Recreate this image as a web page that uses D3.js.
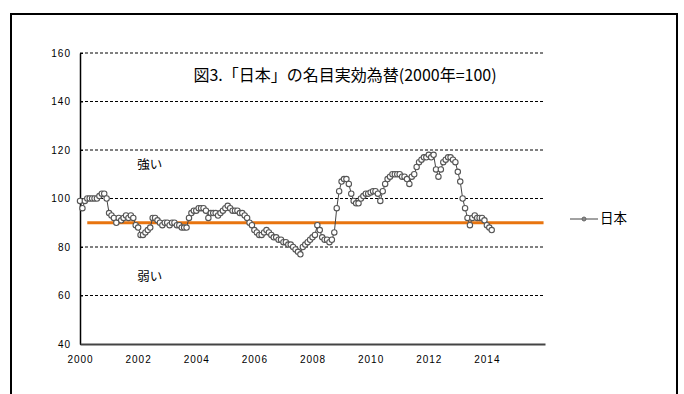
<!DOCTYPE html>
<html>
<head>
<meta charset="utf-8">
<script src="https://cdn.jsdelivr.net/npm/d3@7"></script>
<style>
  html, body { margin: 0; padding: 0; background: #fff; }
  svg { display: block; }
  .tick text { font-family: "Liberation Sans", Arial, sans-serif; font-size: 10px; letter-spacing: 1px; fill: #000; }
  .jp { font-family: "Noto Sans CJK JP", sans-serif; fill: #000; }
</style>
</head>
<body>
<svg id="chart" width="684" height="394"></svg>
<script>
// Nominal effective exchange rate of Japan, monthly, 2000 = 100 (Jan 2000 – Mar 2014)
const startYear = 2000;
const neer = [
  // 2000
  99, 96, 99, 100, 100, 100, 100, 100, 101, 102, 102, 100,
  // 2001
  94, 93, 92, 90, 92, 91, 92, 93, 92, 93, 92, 89,
  // 2002
  88, 85, 85, 86, 87, 88, 92, 92, 91, 90, 89, 90,
  // 2003
  90, 89, 90, 90, 89, 89, 88, 88, 88, 92, 94, 95,
  // 2004
  95, 96, 96, 96, 95, 92, 94, 94, 94, 93, 94, 95,
  // 2005
  96, 97, 96, 95, 95, 95, 94, 94, 93, 92, 90, 89,
  // 2006
  87, 86, 85, 85, 86, 87, 86, 85, 84, 84, 83, 83,
  // 2007
  82, 82, 81, 81, 80, 79, 78, 77, 80, 81, 82, 83,
  // 2008
  84, 85, 89, 87, 84, 83, 83, 82, 83, 86, 96, 103,
  // 2009
  107, 108, 108, 106, 102, 99, 98, 98, 100, 101, 102, 102,
  // 2010
  102.5, 103, 103, 102, 99, 103, 106, 108, 109, 110, 110, 110,
  // 2011
  110, 109, 109, 108, 106, 109, 110, 113, 115, 116, 117, 117,
  // 2012
  118, 117, 118, 112, 109, 112, 115, 116, 117, 117, 116, 115,
  // 2013
  111, 107, 100, 96, 92, 89, 92, 93, 92, 92, 92, 91,
  // 2014
  89, 88, 87
];

const yTicks = [40, 60, 80, 100, 120, 140, 160];
const xTicks = [2000, 2002, 2004, 2006, 2008, 2010, 2012, 2014];
const xDomain = [2000, 2016];
const yDomain = [40, 160];

// Reference level of the rate (horizontal line)
const refLine = [{ year: 2000.25, value: 90 }, { year: 2015.95, value: 90 }];

const title = "図3.「日本」の名目実効為替(2000年=100)";
const strongLabel = { text: "強い", year: 2002.4, value: 113.5 };
const weakLabel = { text: "弱い", year: 2002.4, value: 67.5 };
const seriesName = "日本";

const data = neer.map((v, i) => ({ year: startYear + i / 12, value: v }));

const svg = d3.select("#chart");

// Outer frame
svg.append("rect")
  .attr("x", 11).attr("y", 14)
  .attr("width", 666).attr("height", 400)
  .attr("fill", "none").attr("stroke", "#000").attr("stroke-width", 2);

const plot = { left: 80, right: 545, top: 53, bottom: 344 };

const x = d3.scaleLinear().domain(xDomain).range([plot.left, plot.right]);
const y = d3.scaleLinear().domain(yDomain).range([plot.bottom, plot.top]);

// Dashed horizontal gridlines
svg.append("g")
  .selectAll("line")
  .data(yTicks.filter(t => t !== yDomain[0]))
  .join("line")
  .attr("x1", x(xDomain[0])).attr("x2", x(xDomain[1]))
  .attr("y1", d => y(d)).attr("y2", d => y(d))
  .attr("stroke", "#000").attr("stroke-width", 1)
  .attr("stroke-dasharray", "3,2");

// Y axis
const yAxis = svg.append("g")
  .attr("transform", `translate(${plot.left},0)`)
  .call(d3.axisLeft(y).tickValues(yTicks).tickSizeInner(-3).tickSizeOuter(0).tickPadding(9));
yAxis.select(".domain").attr("stroke", "#000").attr("stroke-width", 1.5);
yAxis.selectAll(".tick line").attr("stroke", "#000");

// X axis
const xAxis = svg.append("g")
  .attr("transform", `translate(0,${plot.bottom})`)
  .call(d3.axisBottom(x).tickValues(xTicks).tickFormat(d3.format("d")).tickSize(0).tickPadding(12));
xAxis.select(".domain").attr("stroke", "#444").attr("stroke-width", 2);

// Reference line at 90
svg.append("path")
  .datum(refLine)
  .attr("fill", "none")
  .attr("stroke", "#E8740F")
  .attr("stroke-width", 3)
  .attr("d", d3.line().x(d => x(d.year)).y(d => y(d.value)));

// Series line
svg.append("path")
  .datum(data)
  .attr("fill", "none")
  .attr("stroke", "#444")
  .attr("stroke-width", 1)
  .attr("d", d3.line().x(d => x(d.year)).y(d => y(d.value)));

// Series markers
svg.append("g")
  .selectAll("circle")
  .data(data)
  .join("circle")
  .attr("cx", d => x(d.year))
  .attr("cy", d => y(d.value))
  .attr("r", 2.7)
  .attr("fill", "#fff")
  .attr("stroke", "#555")
  .attr("stroke-width", 1.1);

// Title
svg.append("text")
  .attr("class", "jp")
  .attr("x", 345).attr("y", 81)
  .attr("text-anchor", "middle")
  .attr("font-size", 16)
  .text(title);

// Strong / weak annotations
[strongLabel, weakLabel].forEach(l => {
  svg.append("text")
    .attr("class", "jp")
    .attr("x", x(l.year)).attr("y", y(l.value))
    .attr("text-anchor", "middle")
    .attr("dominant-baseline", "middle")
    .attr("font-size", 12.5)
    .text(l.text);
});

// Legend
const lg = svg.append("g").attr("transform", "translate(570,219)");
lg.append("line").attr("x1", 0).attr("x2", 28).attr("y1", 0).attr("y2", 0)
  .attr("stroke", "#444").attr("stroke-width", 1);
lg.append("circle").attr("cx", 14).attr("cy", 0).attr("r", 2)
  .attr("fill", "#888").attr("stroke", "#666");
lg.append("text").attr("class", "jp")
  .attr("x", 30).attr("y", 0)
  .attr("dominant-baseline", "middle")
  .attr("font-size", 13.5)
  .text(seriesName);
</script>
</body>
</html>
